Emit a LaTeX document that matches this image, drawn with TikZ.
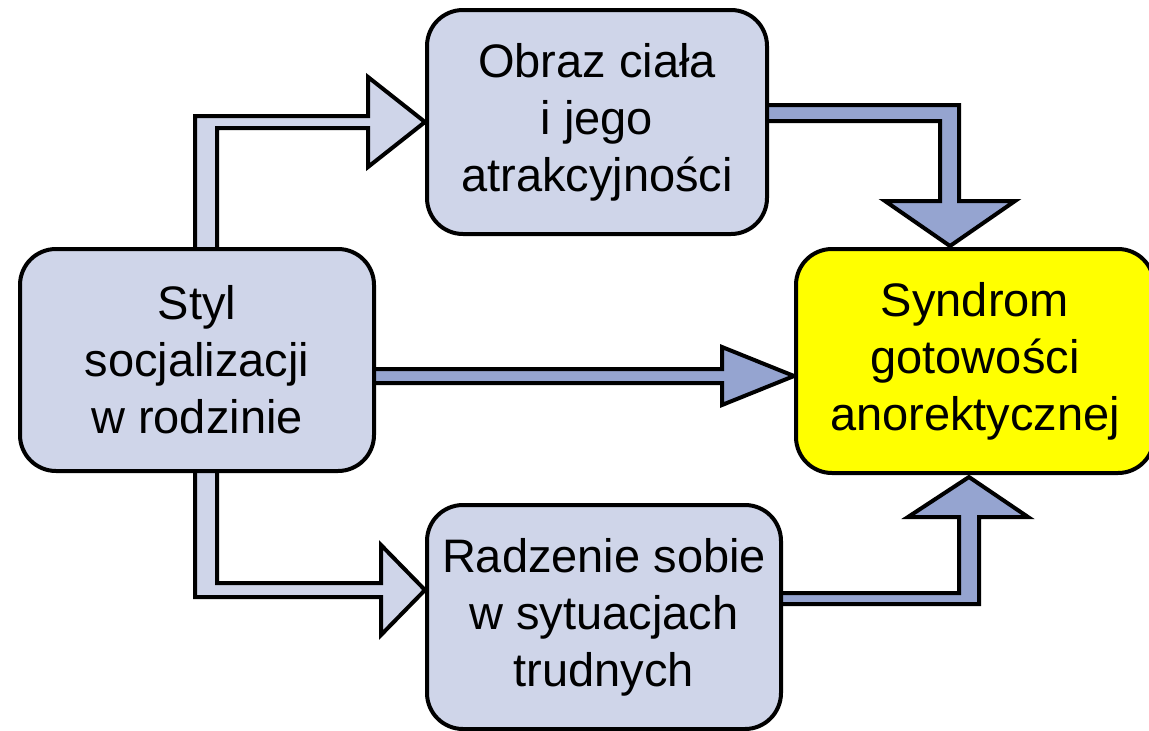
\documentclass[tikz,border=0pt]{standalone}
\usepackage{fontspec}
\setmainfont{Liberation Sans}
\usetikzlibrary{calc,backgrounds}
\definecolor{boxfill}{HTML}{CFD5E9}
\definecolor{arrowdark}{HTML}{95A4D0}
\definecolor{hiyellow}{HTML}{FFFF00}
\tikzset{
  boxnode/.style={draw=black, line width=4pt, rounded corners=36pt, fill=boxfill,
    align=center, inner sep=0pt, font=\fontsize{47}{57}\selectfont},
  lightarrow/.style={draw=black, line width=4pt, fill=boxfill, line join=miter},
  darkarrow/.style={draw=black, line width=4pt, fill=arrowdark, line join=miter},
}
\begin{document}
\begin{tikzpicture}[x=1pt,y=-1pt]
\useasboundingbox (0,0) rectangle (1149,731);
\path
  (197,360) node[boxnode, minimum width=354pt, minimum height=222pt] (L) {Styl\\socjalizacji\\w rodzinie}
  (597,122) node[boxnode, minimum width=340pt, minimum height=224pt] (T) {Obraz ciała\\i jego\\atrakcyjności}
  (604,617) node[boxnode, minimum width=354pt, minimum height=224pt] (B) {Radzenie sobie\\w sytuacjach\\trudnych}
  (975,361) node[boxnode, fill=hiyellow, minimum width=358pt, minimum height=224pt] (R) {Syndrom\\gotowości\\anorektycznej};
\begin{scope}[on background layer]
\coordinate (t2) at ($(R.north)+(-25,-1)$);
\coordinate (t3) at ($(R.west)+(0,15)$);
\coordinate (t4) at ($(B.west)+(0,-27)$);
\coordinate (t5) at ($(R.south)+(-6,2)$);
\filldraw[lightarrow] ($(L.north)+(-2,0)$) |- ($(T.west)+(-57,-6)$) -- ++(0,-39) -- (T.west) -- ++(-57,45) -- ++(0,-39) -| ($(L.north)+(20,0)$);
\filldraw[darkarrow] ($(T.east)+(0,-17)$) -| ($(t2)+(9,-45)$) -- ++(56,0) -- (t2) -- ++(-65,-45) -- ++(55,0) |- ($(T.east)+(0,-1)$);
\filldraw[darkarrow] ($(L.east)+(0,9)$) -- ($(t3)+(-72,-7)$) -- ++(0,-22) -- (t3) -- ++(-72,29) -- ++(0,-22) -- ($(L.east)+(0,23)$);
\filldraw[lightarrow] ($(L.south)+(-2,0)$) |- ($(t4)+(-44,7)$) -- ++(0,38) -- (t4) -- ++(-44,-45) -- ++(0,38) -| ($(L.south)+(20,0)$);
\filldraw[darkarrow] ($(B.east)+(0,-24)$) -| ($(t5)+(-10,40)$) -- ++(-51,0) -- (t5) -- ++(59,40) -- ++(-49,0) |- ($(B.east)+(0,-13)$);
\end{scope}
\end{tikzpicture}
\end{document}
